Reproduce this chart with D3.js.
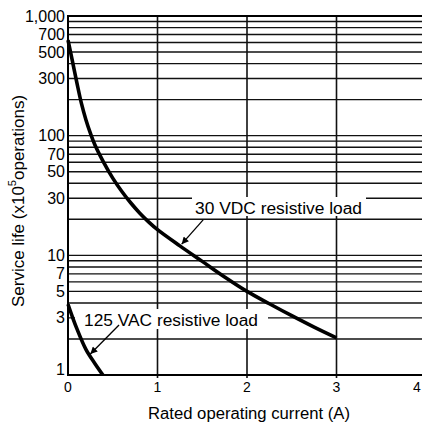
<!DOCTYPE html>
<html>
<head>
<meta charset="utf-8">
<script src="https://cdn.jsdelivr.net/npm/d3@7"></script>
<style>
  html, body { margin: 0; padding: 0; background: #fff; }
  svg { display: block; font-family: "Liberation Sans", Arial, sans-serif; }
</style>
</head>
<body>
<svg id="chart" width="422" height="425"></svg>
<script>
// values
const currentDC = [0, 0.05, 0.1, 0.15, 0.2, 0.25, 0.3, 0.4, 0.5, 0.6, 0.7, 0.8, 0.9, 1, 1.25, 1.5, 1.75, 2, 2.25, 2.5, 2.75, 3];
const lifeDC    = [630, 417, 275, 186, 136, 105, 84, 59.6, 44.2, 34.3, 27.5, 22.6, 19.05, 16.4, 12.0, 8.9, 6.6, 5.0, 3.94, 3.13, 2.51, 2.04];
const currentAC = [0, 0.05, 0.1, 0.2, 0.3, 0.39];
const lifeAC    = [3.9, 3.05, 2.43, 1.64, 1.25, 1.0];

const xTicks = [0, 1, 2, 3, 4];
const yTickLabels = [1000, 700, 500, 300, 100, 70, 50, 30, 10, 7, 5, 3, 1];
const yGrid = [1, 10, 100].flatMap(d => d3.range(1, 10).map(k => d * k)).concat([1000]);

const svg = d3.select("#chart");
const plotLeft = 68, plotBottom = 375, plotTop = 16;

const x = d3.scaleLinear().domain([0, 4]).range([plotLeft, 426]);
const y = d3.scaleLog().domain([1, 1000]).range([plotBottom, plotTop]);

// horizontal grid
svg.append("g")
  .selectAll("line")
  .data(yGrid)
  .enter().append("line")
  .attr("x1", plotLeft).attr("x2", 422)
  .attr("y1", d => y(d)).attr("y2", d => y(d))
  .attr("stroke", "#111")
  .attr("stroke-width", 1.4);

// vertical grid
svg.append("g")
  .selectAll("line")
  .data(xTicks.slice(1))
  .enter().append("line")
  .attr("x1", d => x(d)).attr("x2", d => x(d))
  .attr("y1", plotTop).attr("y2", plotBottom + 3)
  .attr("stroke", "#111")
  .attr("stroke-width", 1.6);

// axes lines
svg.append("line").attr("x1", plotLeft).attr("x2", plotLeft).attr("y1", plotTop - 1).attr("y2", plotBottom + 1)
  .attr("stroke", "#000").attr("stroke-width", 2);
svg.append("line").attr("x1", plotLeft).attr("x2", 422).attr("y1", plotBottom).attr("y2", plotBottom)
  .attr("stroke", "#000").attr("stroke-width", 2);
svg.append("line").attr("x1", plotLeft).attr("x2", 422).attr("y1", plotTop).attr("y2", plotTop)
  .attr("stroke", "#000").attr("stroke-width", 2);

// tick labels
svg.append("g")
  .attr("font-size", 16)
  .attr("text-anchor", "end")
  .selectAll("text")
  .data(yTickLabels)
  .enter().append("text")
  .attr("x", 65)
  .attr("y", d => Math.min(y(d) + 5.5, 375))
  .text(d => d3.format(",")(d));

svg.append("g")
  .attr("font-size", 14)
  .attr("text-anchor", "middle")
  .selectAll("text")
  .data(xTicks)
  .enter().append("text")
  .attr("x", d => Math.min(x(d), 417))
  .attr("y", 392)
  .text(d => d);

// axis titles
svg.append("text")
  .attr("x", 148).attr("y", 419)
  .attr("font-size", 16)
  .attr("textLength", 202).attr("lengthAdjust", "spacingAndGlyphs")
  .text("Rated operating current (A)");

const yt = svg.append("text")
  .attr("transform", "translate(24,201) rotate(-90)")
  .attr("font-size", 17)
  .attr("text-anchor", "middle");
yt.append("tspan").text("Service life (x10");
yt.append("tspan").attr("font-size", 11).attr("dy", -8).text("5");
yt.append("tspan").attr("dy", 8).text("operations)");

// labels with white backing
svg.append("rect").attr("x", 192).attr("y", 197).attr("width", 174).attr("height", 19).attr("fill", "#fff");
svg.append("rect").attr("x", 75).attr("y", 309).attr("width", 193).attr("height", 20).attr("fill", "#fff");

svg.append("text").attr("x", 195).attr("y", 214).attr("font-size", 16)
  .attr("textLength", 167).attr("lengthAdjust", "spacingAndGlyphs")
  .text("30 VDC resistive load");
svg.append("text").attr("x", 84).attr("y", 326).attr("font-size", 16)
  .attr("textLength", 174).attr("lengthAdjust", "spacingAndGlyphs")
  .text("125 VAC resistive load");

// curves
const line = d3.line().x(d => x(d[0])).y(d => y(d[1])).curve(d3.curveCatmullRom.alpha(0.5));
svg.append("path")
  .datum(d3.zip(currentDC, lifeDC))
  .attr("d", line)
  .attr("fill", "none").attr("stroke", "#000").attr("stroke-width", 3.6);
svg.append("path")
  .datum(d3.zip(currentAC, lifeAC))
  .attr("d", line)
  .attr("fill", "none").attr("stroke", "#000").attr("stroke-width", 3.6);

// arrows
svg.append("defs").append("marker")
  .attr("id", "arr").attr("viewBox", "0 0 10 10").attr("refX", 10).attr("refY", 5)
  .attr("markerWidth", 9).attr("markerHeight", 7).attr("markerUnits", "userSpaceOnUse")
  .attr("orient", "auto")
  .append("path").attr("d", "M0,0L10,5L0,10z").attr("fill", "#000");

const arrows = [
  [[1.51, 19.8], [1.27, 12.4]],
  [[0.57, 2.62], [0.25, 1.5]]
];
svg.append("g")
  .selectAll("line")
  .data(arrows)
  .enter().append("line")
  .attr("x1", d => x(d[0][0])).attr("y1", d => y(d[0][1]))
  .attr("x2", d => x(d[1][0])).attr("y2", d => y(d[1][1]))
  .attr("stroke", "#000").attr("stroke-width", 1.3)
  .attr("marker-end", "url(#arr)");
</script>
</body>
</html>
